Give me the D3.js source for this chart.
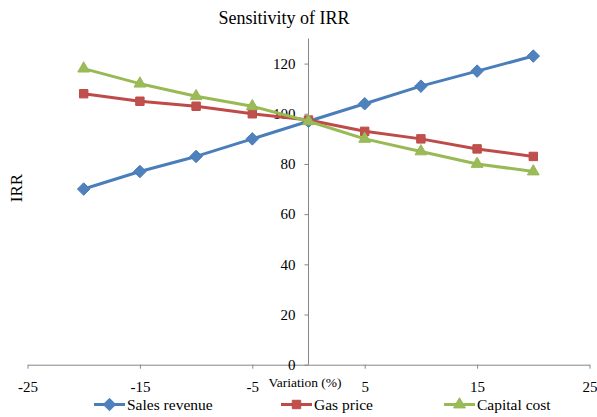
<!DOCTYPE html>
<html>
<head>
<meta charset="utf-8">
<script src="https://cdn.jsdelivr.net/npm/d3@7"></script>
<style>
  body { margin: 0; background: #fff; }
  svg { display: block; }
</style>
</head>
<body>
<svg id="chart" width="597" height="417"></svg>
<script>
// Variation steps (%) and resulting IRR for each sensitivity case
const variation = [-20, -15, -10, -5, 0, 5, 10, 15, 20];
const salesRevenue = [70, 77, 83, 90, 97, 104, 111, 117, 123];
const gasPrice = [108, 105, 103, 100, 97.5, 93, 90, 86, 83];
const capitalCost = [118, 112, 107, 103, 97, 90, 85, 80, 77];

const seriesNames = ["Sales revenue", "Gas price", "Capital cost"];
const xTicks = [-25, -15, -5, 5, 15, 25];
const yTicks = [0, 20, 40, 60, 80, 100, 120];

const serif = '"Liberation Serif", "Times New Roman", serif';

const series = [
  { name: seriesNames[0], values: salesRevenue, line: "#4a7ebb", fill: "#4f81bd", symbol: d3.symbolDiamond2, size: 100 },
  { name: seriesNames[1], values: gasPrice,     line: "#be4b48", fill: "#c0504d", symbol: d3.symbolSquare2,  size: 90 },
  { name: seriesNames[2], values: capitalCost,  line: "#98b954", fill: "#9bbb59", symbol: d3.symbolTriangle2, size: 100 }
];

const svg = d3.select("#chart");
const axisColor = "#868686";

const x = d3.scaleLinear().domain([-25, 25]).range([27.5, 589.5]);
const y = d3.scaleLinear().domain([0, 130]).range([364.7, 38.5]);

// Horizontal axis crossing at IRR = 0
const gx = svg.append("g")
  .attr("transform", `translate(0,${y(0)})`)
  .call(d3.axisBottom(x).tickValues(xTicks).tickSize(4).tickPadding(13).tickSizeOuter(0).tickFormat(d => String(d)));
gx.select(".domain").attr("stroke", axisColor);
gx.selectAll(".tick line").attr("stroke", axisColor);
gx.selectAll(".tick text").attr("fill", "#000")
  .style("font-family", serif).style("font-size", "15px");

// Vertical axis crossing at 0 % variation
const gy = svg.append("g")
  .attr("transform", `translate(${x(0)},0)`)
  .call(d3.axisLeft(y).tickValues(yTicks).tickSize(4).tickPadding(9).tickSizeOuter(0).tickFormat(d => String(d)));
gy.select(".domain").attr("stroke", axisColor).attr("d", `M0,${y(130)}V${y(0)}`);
gy.selectAll(".tick line").attr("stroke", axisColor);
gy.selectAll(".tick text").attr("fill", "#000")
  .style("font-family", serif).style("font-size", "15px");

// Lines and markers
const line = d3.line().x((d, i) => x(variation[i])).y(d => y(d));
series.forEach(s => {
  svg.append("path")
    .attr("d", line(s.values))
    .attr("fill", "none")
    .attr("stroke", s.line)
    .attr("stroke-width", 3)
    .attr("stroke-linejoin", "round");
  svg.append("g").selectAll("path")
    .data(s.values)
    .join("path")
    .attr("transform", (d, i) => `translate(${x(variation[i])},${y(d)})`)
    .attr("d", d3.symbol(s.symbol, s.size))
    .attr("fill", s.fill)
    .attr("stroke", s.line)
    .attr("stroke-width", 1);
});

// Titles
svg.append("text")
  .attr("x", 284).attr("y", 24)
  .attr("text-anchor", "middle")
  .style("font-family", serif).style("font-size", "18px")
  .text("Sensitivity of IRR");

svg.append("text")
  .attr("transform", "translate(22,188) rotate(-90)")
  .attr("text-anchor", "middle")
  .style("font-family", serif).style("font-size", "17px")
  .text("IRR");

svg.append("text")
  .attr("x", 305).attr("y", 387)
  .attr("text-anchor", "middle")
  .style("font-family", serif).style("font-size", "13.5px")
  .text("Variation (%)");

// Legend
const legendX = [94, 281, 444];
series.forEach((s, i) => {
  const g = svg.append("g").attr("transform", `translate(${legendX[i]},404.5)`);
  g.append("line").attr("x1", 0).attr("x2", 31).attr("y1", 0).attr("y2", 0)
    .attr("stroke", s.line).attr("stroke-width", 3);
  g.append("path")
    .attr("transform", "translate(15.5,0)")
    .attr("d", d3.symbol(s.symbol, s.size))
    .attr("fill", s.fill).attr("stroke", s.line).attr("stroke-width", 1);
  g.append("text")
    .attr("x", 33).attr("y", 5)
    .style("font-family", serif).style("font-size", "15.5px")
    .text(s.name);
});
</script>
</body>
</html>
